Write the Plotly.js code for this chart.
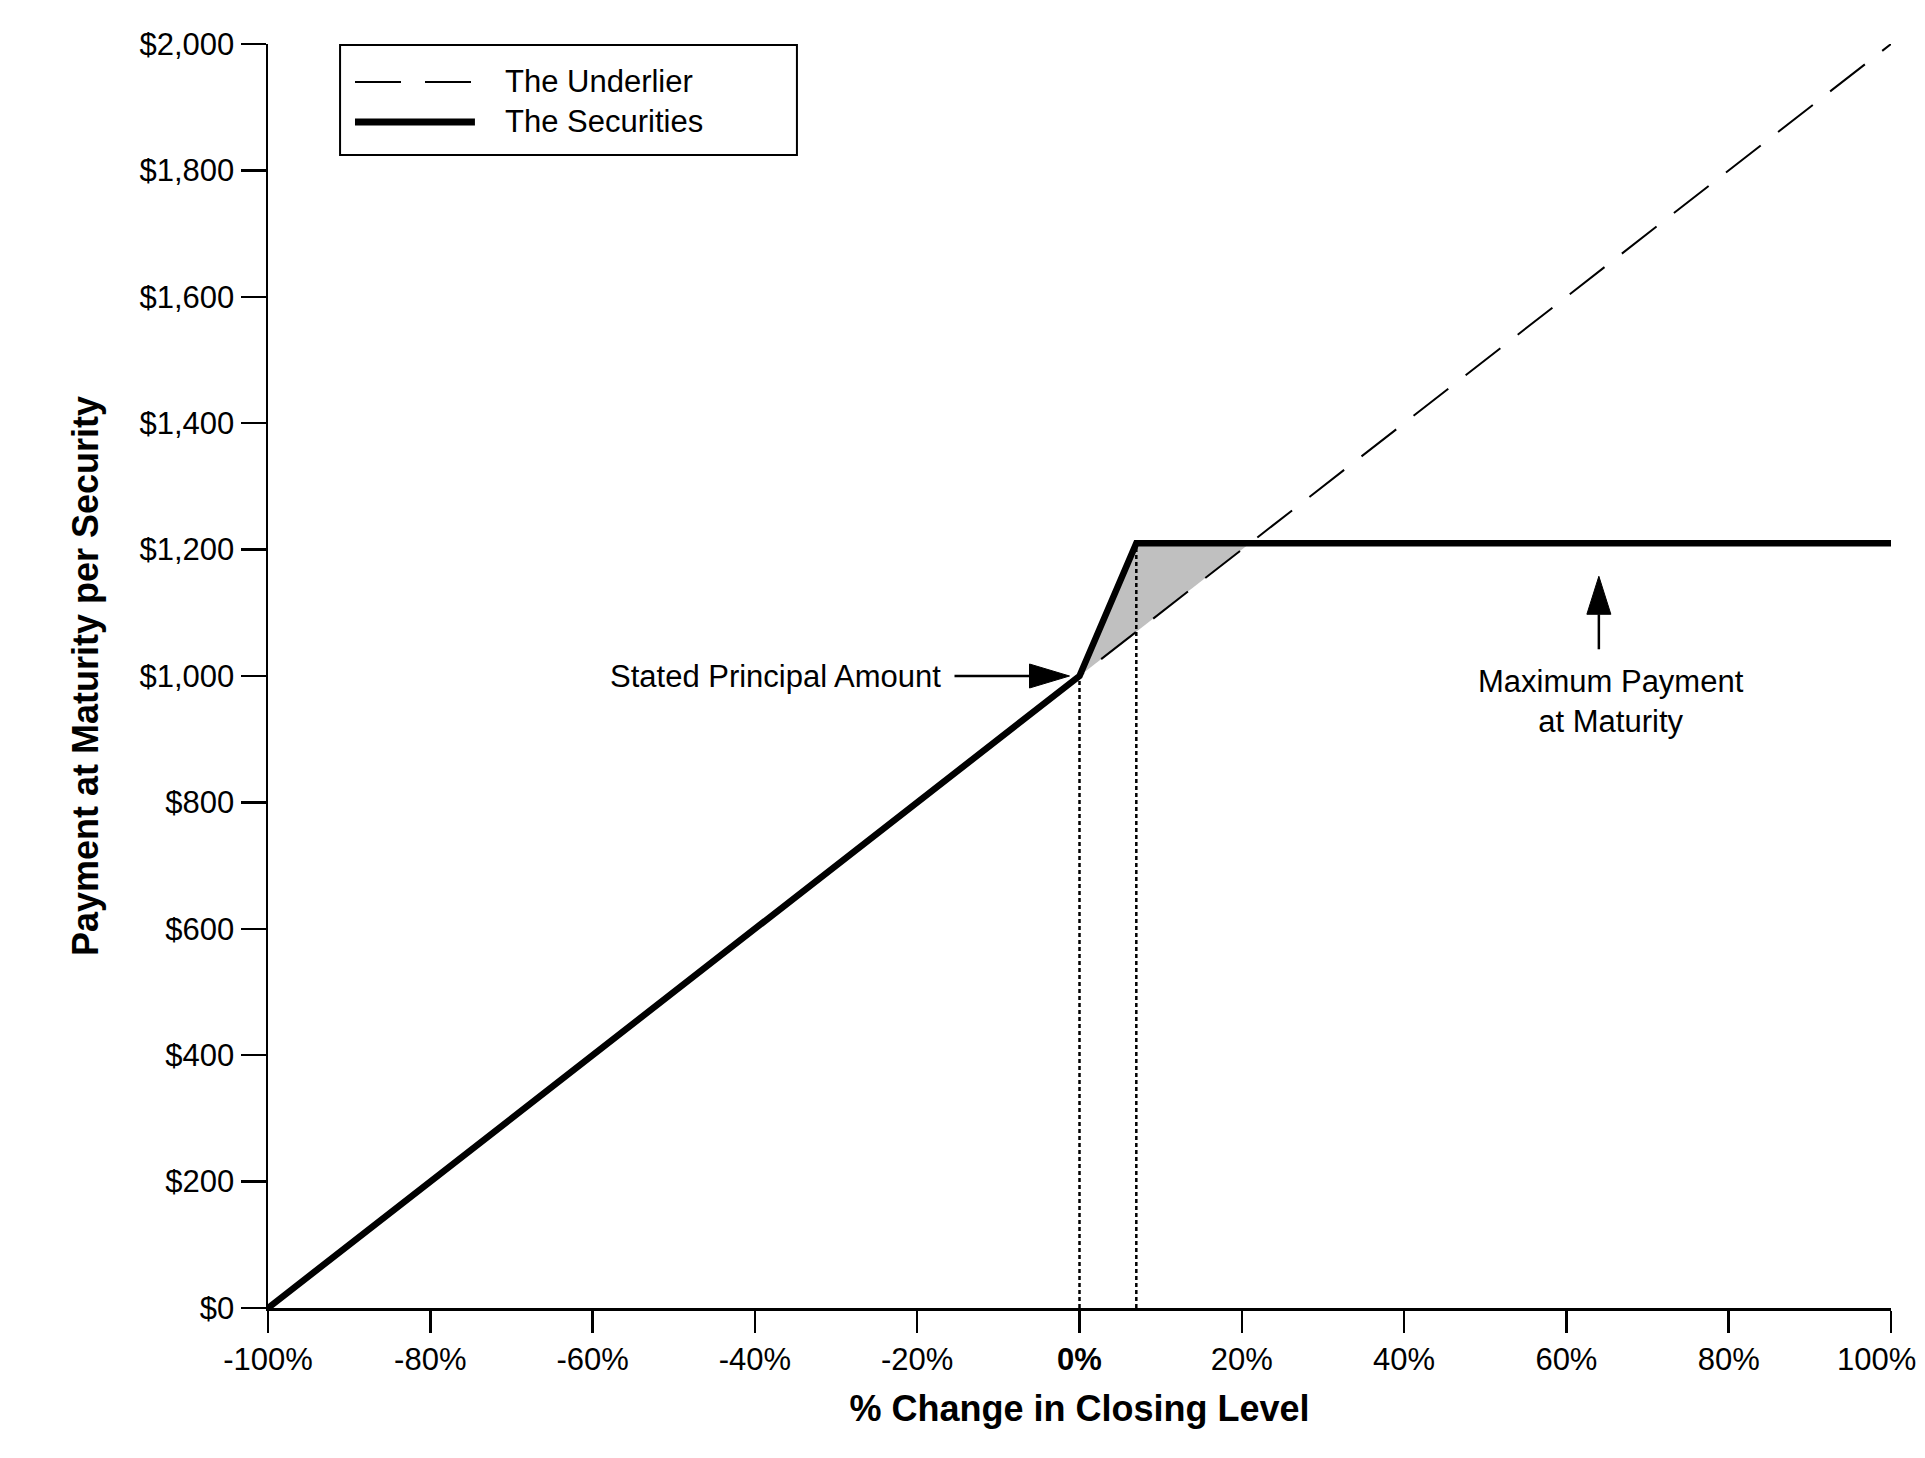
<!DOCTYPE html>
<html>
<head>
<meta charset="utf-8">
<script src="https://cdn.plot.ly/plotly-3.0.1.min.js"></script>
<style>
  html, body { margin: 0; padding: 0; background: #fff; }
  #chart { width: 1925px; height: 1458px; }
</style>
</head>
<body>
<div id="chart"></div>
<script>
// payoff data, % change in closing level vs payment per security
const underlierX = [-100, 100];
const underlierY = [0, 2000];
const securitiesX = [-100, 0, 7, 100];
const securitiesY = [0, 1000, 1210, 1210];
// grey band between securities and underlier (0% .. 21%)
const shadeX = [0, 7, 21, 0];
const shadeY = [1000, 1210, 1210, 1000];

const xTickVals = [-100, -80, -60, -40, -20, 0, 20, 40, 60, 80, 100];
const xTickText = ['-100%', '-80%', '-60%', '-40%', '-20%', '<b>0%</b>', '20%', '40%', '60%', '80%', '100%'];
const yTickVals = [0, 200, 400, 600, 800, 1000, 1200, 1400, 1600, 1800, 2000];
const yTickText = ['$0', '$200', '$400', '$600', '$800', '$1,000', '$1,200', '$1,400', '$1,600', '$1,800', '$2,000'];

const maxPayArrowX = 64;
const maxPayTextX = 65.5;
const maxPayTextY = 960;

const FONT = 'Liberation Sans, Arial, sans-serif';

// the last tick label sits right-aligned against the page edge (as in the original),
// so it is written as an annotation and left blank in the tick list
const lastTick = xTickVals.length - 1;
const xTickShown = xTickText.map((t, i) => i === lastTick ? '' : t);

let traces = [
  {
    x: shadeX, y: shadeY, type: 'scatter', mode: 'lines',
    fill: 'toself', fillcolor: '#c0c0c0',
    line: {width: 0, color: '#c0c0c0'},
    hoverinfo: 'skip', showlegend: false
  },
  {
    // dotted drop lines at 0% and at the kink
    x: [securitiesX[1], securitiesX[1]], y: [0, securitiesY[1]],
    type: 'scatter', mode: 'lines',
    line: {color: '#000', width: 2.5, dash: '4px,3px'},
    showlegend: false
  },
  {
    x: [securitiesX[2], securitiesX[2]], y: [0, securitiesY[2]],
    type: 'scatter', mode: 'lines',
    line: {color: '#000', width: 2.5, dash: '4px,3px'},
    showlegend: false
  },
  {
    name: 'The Underlier',
    x: underlierX, y: underlierY, type: 'scatter', mode: 'lines',
    line: {color: '#000', width: 2, dash: '44px,22px'},
    showlegend: false
  },
  {
    name: 'The Securities',
    x: securitiesX, y: securitiesY, type: 'scatter', mode: 'lines',
    line: {color: '#000', width: 6.5},
    showlegend: false
  }
];

// arrows drawn as pixel-sized paths anchored on the data points
let shapes = [
  {type: 'path', xref: 'x', yref: 'y', xsizemode: 'pixel', ysizemode: 'pixel',
   xanchor: securitiesX[1], yanchor: securitiesY[1],
   path: 'M-125,0L-50,0', line: {color: '#000', width: 2.5}},
  {type: 'path', xref: 'x', yref: 'y', xsizemode: 'pixel', ysizemode: 'pixel',
   xanchor: securitiesX[1], yanchor: securitiesY[1],
   path: 'M-10,0L-50,12L-50,-12Z', fillcolor: '#000', line: {color: '#000', width: 1}},
  {type: 'path', xref: 'x', yref: 'y', xsizemode: 'pixel', ysizemode: 'pixel',
   xanchor: maxPayArrowX, yanchor: securitiesY[3],
   path: 'M0,-71L0,-106', line: {color: '#000', width: 2.5}},
  {type: 'path', xref: 'x', yref: 'y', xsizemode: 'pixel', ysizemode: 'pixel',
   xanchor: maxPayArrowX, yanchor: securitiesY[3],
   path: 'M0,-33L12,-71L-12,-71Z', fillcolor: '#000', line: {color: '#000', width: 1}},
  // legend box
  {type: 'rect', xref: 'paper', yref: 'paper', x0: 0.0444, x1: 0.3259, y0: 0.9122, y1: 0.9992,
   line: {color: '#000', width: 2}, fillcolor: 'rgba(0,0,0,0)'},
  {type: 'line', xref: 'paper', yref: 'paper', x0: 0.0536, x1: 0.1251, y0: 0.970, y1: 0.970,
   line: {color: '#000', width: 2, dash: '46px,24px'}},
  {type: 'line', xref: 'paper', yref: 'paper', x0: 0.0536, x1: 0.1275, y0: 0.9383, y1: 0.9383,
   line: {color: '#000', width: 7}}
];

let annotations = [
  {x: securitiesX[1], y: securitiesY[1], xref: 'x', yref: 'y', showarrow: false,
   text: 'Stated Principal Amount', xanchor: 'right', yanchor: 'middle', xshift: -137,
   font: {family: FONT, size: 31, color: '#000'}},
  {x: maxPayTextX, y: maxPayTextY, xref: 'x', yref: 'y', showarrow: false,
   text: 'Maximum Payment<br>at Maturity', xanchor: 'center', yanchor: 'middle', align: 'center',
   font: {family: FONT, size: 31, color: '#000'}},
  {x: 0.1448, y: 0.970, xref: 'paper', yref: 'paper', showarrow: false,
   text: 'The Underlier', xanchor: 'left', yanchor: 'middle',
   font: {family: FONT, size: 31, color: '#000'}},
  {x: 0.1448, y: 0.9383, xref: 'paper', yref: 'paper', showarrow: false,
   text: 'The Securities', xanchor: 'left', yanchor: 'middle',
   font: {family: FONT, size: 31, color: '#000'}},
  {x: xTickVals[lastTick], y: yTickVals[0], xref: 'x', yref: 'y', showarrow: false,
   text: xTickText[lastTick], xanchor: 'right', yanchor: 'middle', xshift: 27, yshift: -51,
   font: {family: FONT, size: 31, color: '#000'}}
];

let layout = {
  width: 1925,
  height: 1458,
  margin: {l: 268, r: 34, t: 44, b: 150},
  paper_bgcolor: '#fff',
  plot_bgcolor: '#fff',
  showlegend: false,
  font: {family: FONT, size: 31, color: '#000'},
  xaxis: {
    range: [-100, 100],
    tickvals: xTickVals,
    ticktext: xTickShown,
    showgrid: false, zeroline: false,
    showline: true, linecolor: '#000', linewidth: 2.5,
    ticks: 'outside', ticklen: 22, tickwidth: 2.5, tickcolor: '#000',
    tickfont: {family: FONT, size: 31, color: '#000'},
    ticklabeloverflow: 'allow',
    automargin: false,
    title: {text: '<b>% Change in Closing Level</b>', standoff: 20,
            font: {family: FONT, size: 36, color: '#000'}}
  },
  yaxis: {
    range: [0, 2000],
    tickvals: yTickVals,
    ticktext: yTickText,
    showgrid: false, zeroline: false,
    showline: true, linecolor: '#000', linewidth: 2.5,
    ticks: 'outside', ticklen: 25, tickwidth: 2.5, tickcolor: '#000',
    tickfont: {family: FONT, size: 31, color: '#000'},
    ticklabeloverflow: 'allow',
    automargin: false,
    title: {text: '<b>Payment at Maturity per Security</b>', standoff: 30,
            font: {family: FONT, size: 36, color: '#000'}}
  },
  shapes: shapes,
  annotations: annotations
};

Plotly.newPlot('chart', traces, layout, {staticPlot: true});
</script>
</body>
</html>
